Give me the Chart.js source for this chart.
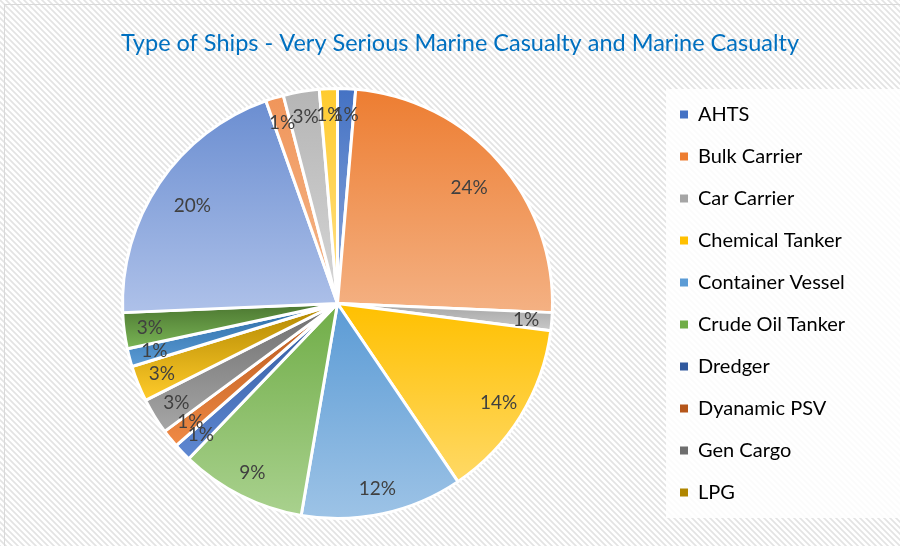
<!DOCTYPE html>
<html>
<head>
<meta charset="utf-8">
<script src="https://cdn.jsdelivr.net/npm/chart.js@4.4.0/dist/chart.umd.min.js"></script>
<style>
	html, body { margin: 0; padding: 0; background: #fff; }
</style>
</head>
<body>
<canvas id="myChart" width="900" height="546"></canvas>
<script>
const titleText = 'Type of Ships - Very Serious Marine Casualty and Marine Casualty';
const shipTypes = [
	'AHTS', 'Bulk Carrier', 'Car Carrier', 'Chemical Tanker', 'Container Vessel',
	'Crude Oil Tanker', 'Dredger', 'Dyanamic PSV', 'Gen Cargo', 'LPG',
	'Multipurpose', 'Offshore Vessel', 'Tug', 'Utility Vessel', 'Vessel (Other)', 'Yacht',
];
const casualties = [1, 18, 1, 10, 9, 7, 1, 1, 2, 2, 1, 2, 15, 1, 2, 1];
// only the first entries fit in the legend box
const legendCount = 10;

// top / bottom colour of each slice's vertical gradient
const topColors = [
	'#4472C4', '#ED7D31', '#A5A5A5', '#FFC000', '#5B9BD5', '#70AD47',
	'#31599E', '#B5561A', '#6E6E6E', '#B08600', '#2A6AA3', '#4B7630',
	'#6B8ED1', '#F0955A', '#B5B5B5', '#FFCB2E',
];
const bottomColors = [
	'#8FAADC', '#F4B183', '#C9C9C9', '#FFD966', '#9DC3E6', '#A9D18E',
	'#5F88D2', '#F08A45', '#A6A6A6', '#FFCB2A', '#5B9BD5', '#7AB556',
	'#AEC1E9', '#F5B88C', '#D6D6D6', '#FFE08A',
];

const total = casualties.reduce((a, b) => a + b, 0);

const legendFont = { family: 'Lato', size: 20 };
const legendPadding = 22;
const legendBox = 8;

// work out the legend width so the pie lands where it should
const measure = document.createElement('canvas').getContext('2d');
measure.font = `${legendFont.size}px ${legendFont.family}`;
const maxText = Math.max(...shipTypes.slice(0, legendCount).map(t => measure.measureText(t).width));
const legendWidth = legendPadding * 2 + legendBox + legendFont.size / 2 + maxText;
const legendLeft = 646;
const rightPad = 900 - legendLeft - legendWidth;

function makePattern(ctx) {
	const tile = document.createElement('canvas');
	tile.width = 6;
	tile.height = 6;
	const t = tile.getContext('2d');
	t.fillStyle = '#ffffff';
	t.fillRect(0, 0, 6, 6);
	t.strokeStyle = '#e3e3e3';
	t.lineWidth = 1.6;
	t.beginPath();
	t.moveTo(-1, -1); t.lineTo(7, 7);
	t.moveTo(-4, 2); t.lineTo(4, 10);
	t.moveTo(2, -4); t.lineTo(10, 4);
	t.stroke();
	return ctx.createPattern(tile, 'repeat');
}

const backdrop = {
	id: 'backdrop',
	beforeDraw(chart) {
		const c = chart.ctx;
		c.save();
		c.fillStyle = makePattern(c);
		c.fillRect(0, 0, chart.width, chart.height);
		c.strokeStyle = '#d9d9d9';
		c.lineWidth = 1;
		c.strokeRect(4.5, 4.5, chart.width + 10, chart.height + 10);

		// legend panel
		const lg = chart.legend;
		c.fillStyle = 'rgba(255,255,255,0.85)';
		c.fillRect(lg.left + 8, 89, chart.width, 429);

		c.fillStyle = '#0070C0';
		c.font = '23.5px Lato';
		c.textAlign = 'center';
		c.textBaseline = 'middle';
		c.fillText(titleText, 460, 43);
		c.restore();
	},
};

const sliceGradient = {
	id: 'sliceGradient',
	beforeDatasetsDraw(chart) {
		const c = chart.ctx;
		chart.getDatasetMeta(0).data.forEach((arc, i) => {
			const { x, y, startAngle, endAngle, outerRadius } = arc.getProps(['x', 'y', 'startAngle', 'endAngle', 'outerRadius']);
			const ys = [y, y + Math.sin(startAngle) * outerRadius, y + Math.sin(endAngle) * outerRadius];
			[-Math.PI / 2, Math.PI / 2, 3 * Math.PI / 2].forEach(a => {
				if (a > startAngle && a < endAngle) ys.push(y + Math.sin(a) * outerRadius);
			});
			const g = c.createLinearGradient(0, Math.min(...ys), 0, Math.max(...ys));
			g.addColorStop(0, topColors[i]);
			g.addColorStop(1, bottomColors[i]);
			arc.options.backgroundColor = g;
		});
	},
};

const sliceLabels = {
	id: 'sliceLabels',
	afterDatasetsDraw(chart) {
		const c = chart.ctx;
		c.save();
		c.font = '19px Lato';
		c.fillStyle = '#404040';
		c.textAlign = 'center';
		c.textBaseline = 'middle';
		chart.getDatasetMeta(0).data.forEach((arc, i) => {
			const { x, y, startAngle, endAngle, outerRadius } = arc.getProps(['x', 'y', 'startAngle', 'endAngle', 'outerRadius']);
			const mid = (startAngle + endAngle) / 2;
			const share = casualties[i] / total;
			// wide slices keep their label a bit further in
			const r = outerRadius * (share >= 0.14 ? 0.815 : 0.88);
			const pct = Math.round(share * 100) + '%';
			c.fillText(pct, x + Math.cos(mid) * r, y + Math.sin(mid) * r);
		});
		c.restore();
	},
};

const ctx = document.getElementById('myChart');
const chart = new Chart(ctx, {
	type: 'pie',
	data: {
		labels: shipTypes,
		datasets: [
			{
				data: casualties,
				backgroundColor: context => topColors[context.dataIndex],
				borderColor: '#ffffff',
				borderWidth: 3,
				radius: 215,
			},
		],
	},
	options: {
		responsive: false,
		devicePixelRatio: 1,
		animation: false,
		layout: {
			padding: { top: 80, bottom: 19, left: 17, right: rightPad },
		},
		plugins: {
			title: { display: false },
			tooltip: { enabled: false },
			legend: {
				position: 'right',
				align: 'center',
				labels: {
					boxWidth: legendBox,
					boxHeight: legendBox,
					padding: legendPadding,
					color: '#595959',
					font: legendFont,
					generateLabels: () => shipTypes.slice(0, legendCount).map((name, i) => ({
						text: name,
						fillStyle: topColors[i],
						strokeStyle: 'rgba(0,0,0,0)',
						lineWidth: 0,
						hidden: false,
						index: i,
					})),
				},
			},
		},
	},
	plugins: [backdrop, sliceGradient, sliceLabels],
});
</script>
</body>
</html>
